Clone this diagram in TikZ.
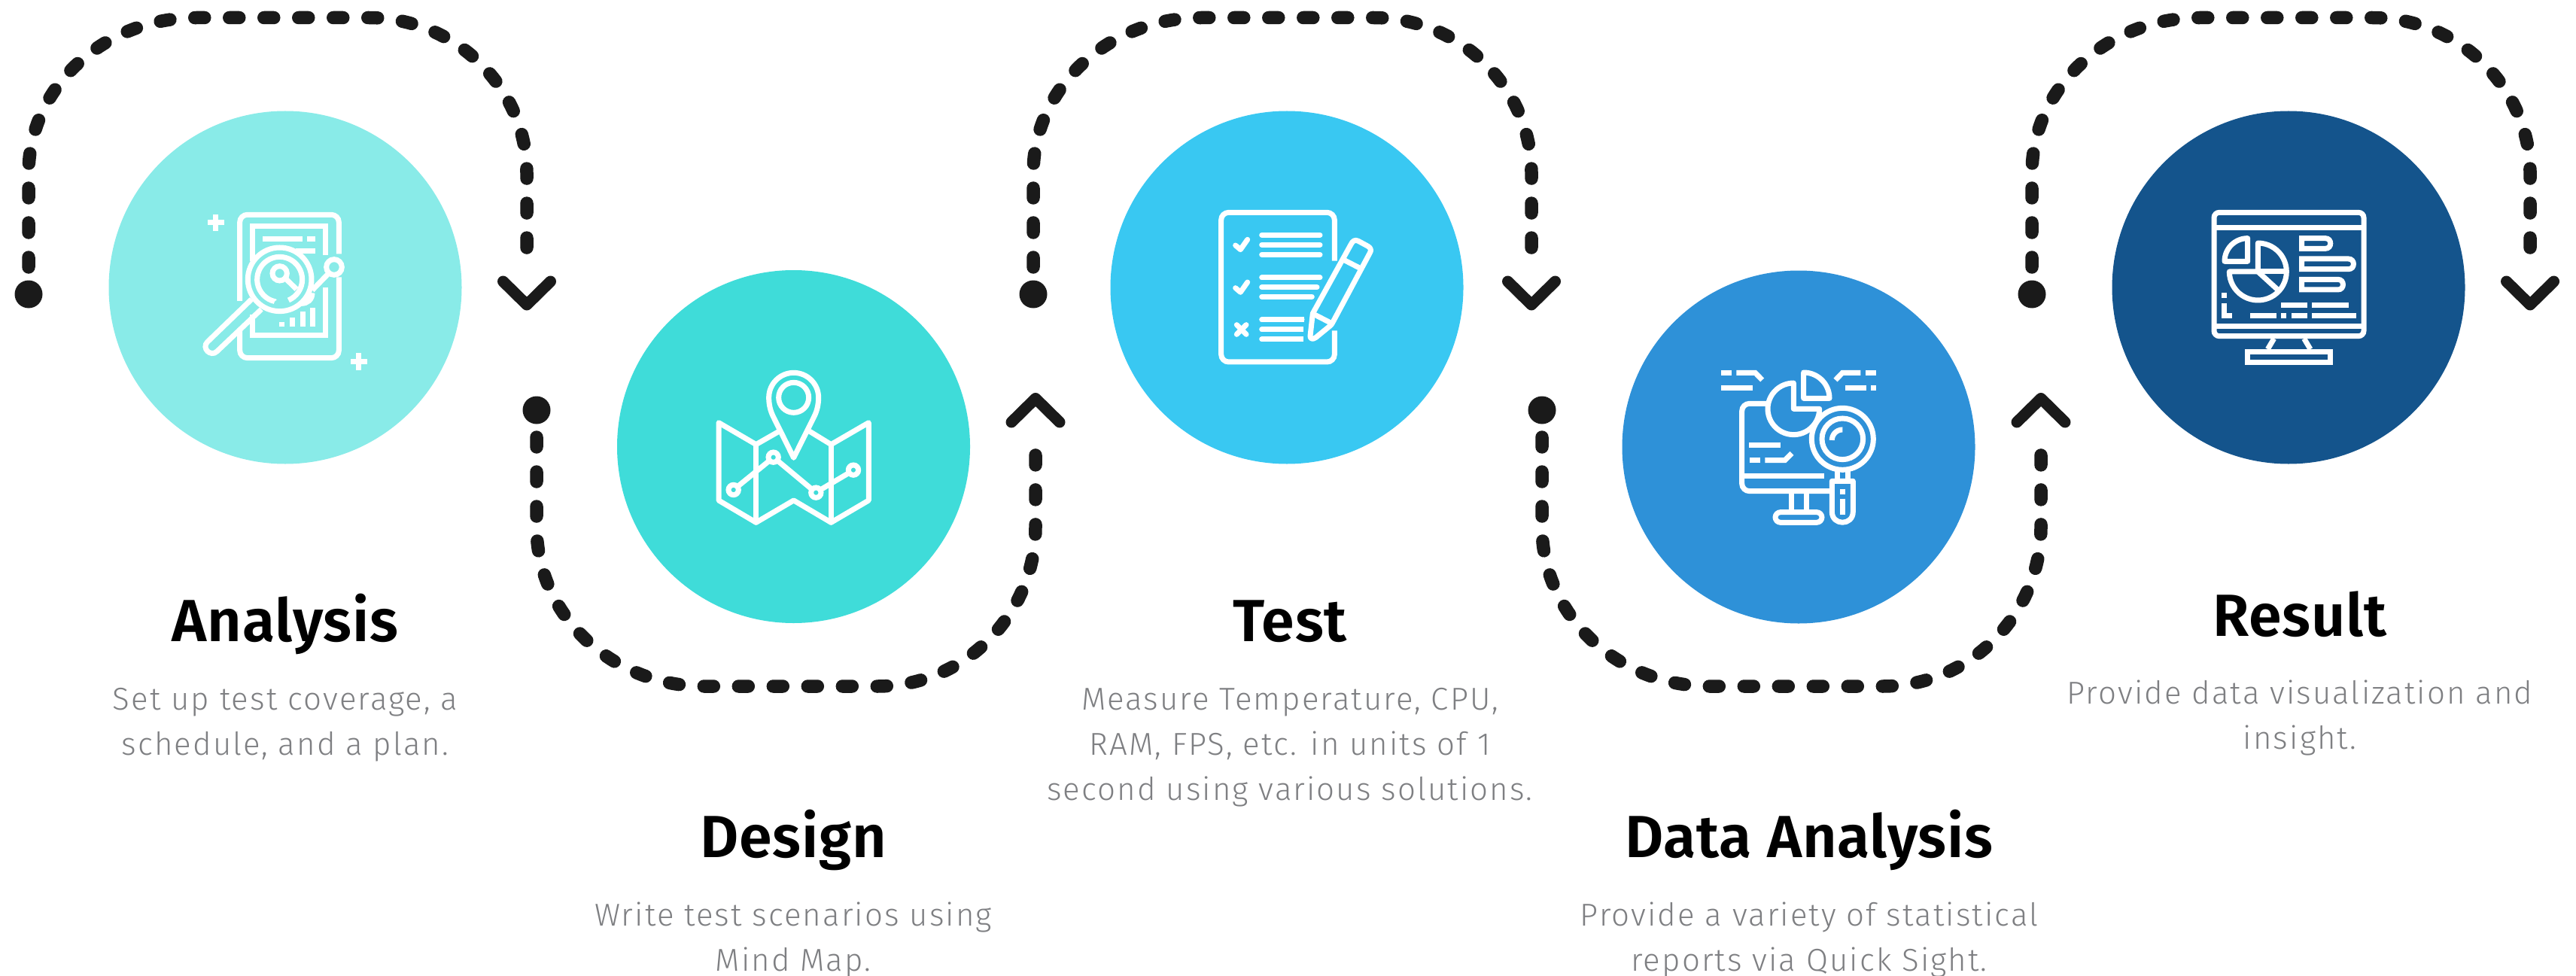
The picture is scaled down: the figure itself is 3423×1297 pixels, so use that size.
\documentclass[tikz,border=0pt]{standalone}
\usepackage{fontspec}
\setmainfont{Fira Sans}
\newfontfamily\titlefont{Fira Sans}[UprightFont=* SemiBold,LetterSpace=1]
\newfontfamily\bodyfont{Fira Sans Light}[LetterSpace=5]
\definecolor{inkdark}{HTML}{1A1A1A}
\definecolor{bodygrey}{HTML}{7E7F82}
\definecolor{stepa}{HTML}{89EBE8}
\definecolor{stepb}{HTML}{3FDCD9}
\definecolor{stepc}{HTML}{39C8F2}
\definecolor{stepd}{HTML}{2E91D8}
\definecolor{stepe}{HTML}{14548C}
\tikzset{
  stepcircle/.style={circle,minimum size=469pt,inner sep=0pt,fill=#1},
  steptitle/.style={anchor=base,inner sep=0pt,font=\titlefont\fontsize{79}{79}\selectfont},
  stepbody/.style={anchor=base,inner sep=0pt,align=center,text=bodygrey,font=\bodyfont\fontsize{42}{60}\selectfont},
  flowdot/.style={circle,minimum size=37pt,inner sep=0pt,fill=inkdark},
  flowline/.style={draw=inkdark,line width=17.5pt,line cap=round,dash pattern=on 13pt off 33pt},
  flowtip/.style={draw=inkdark,line width=15pt,line cap=round,line join=round},
  iconscope/.style={shift={#1},x=0.3333pt,y=-0.3333pt,white,line width=7pt},
  iconround/.style={line cap=round,line join=round}
}
\newcommand{\iconarc}[5]{-- plot[domain=#4:#5,samples=40] ({#1+#3*cos(\x)},{#2+#3*sin(\x)})}
\begin{document}
\begin{tikzpicture}[x=1pt,y=-1pt]
\useasboundingbox (0,0) rectangle (3423,1297);
\fill[white] (0,0) rectangle (3423,1297);
% Drawing circles
\node[stepcircle=stepa] (circleA) at (379,382) {};
\node[stepcircle=stepb] (circleB) at (1054.5,593.5) {};
\node[stepcircle=stepc] (circleC) at (1710,382) {};
\node[stepcircle=stepd] (circleD) at (2390,594) {};
\node[stepcircle=stepe] (circleE) at (3041,382) {};
% Drawing upper flows
\foreach \nm/\dx in {A/0,C/1335,E/2662}{
\begin{scope}[xshift=\dx pt]
\node[flowdot] (dot\nm) at (38,391) {};
\coordinate (from\nm) at ([yshift=36pt]dot\nm);
\coordinate (to\nm) at (700,362);
\coordinate (tip\nm) at (700,405);
\draw[flowline] (from\nm) -- (38,230) .. controls (38,117) and (138,23.5) .. (261,23.5) -- (490,23.5) .. controls (605,23.5) and (700,117) .. (700,230) -- (to\nm);
\draw[flowtip] (668.5,374) -- (tip\nm) -- (731.5,374);
\end{scope}
}
% Drawing lower flows
\foreach \nm/\dx in {B/0,D/1336}{
\begin{scope}[xshift=\dx pt]
\node[flowdot] (dot\nm) at (713,545) {};
\coordinate (from\nm) at ([yshift=-36pt]dot\nm);
\coordinate (to\nm) at (1376,574);
\coordinate (tip\nm) at (1376,529.5);
\draw[flowline] (from\nm) -- (713,700) .. controls (713,817) and (813,912) .. (936,912) -- (1166,912) .. controls (1281,912) and (1376,817) .. (1376,700) -- (to\nm);
\draw[flowtip] (1344,561) -- (tip\nm) -- (1408,561);
\end{scope}
}
% Done with flows; drawing icons
% Icon 1: tablet and lens
\begin{scope}[iconscope={(230,240)}]
\draw[rounded corners=10pt] (266,480) -- (266,136) -- (661,136) -- (661,292);
\draw[rounded corners=10pt] (661,385) -- (661,707) -- (266,707) -- (266,590);
\draw (318,320) -- (318,181) -- (609,181) -- (609,297);
\draw (609,425) -- (609,618) -- (318,618) -- (318,535);
\draw (357,233) -- (516,233);
\draw (533,233) -- (567,233);
\draw (490,280) -- (567,280);
\draw (425,394) circle[radius=127];
\draw (405,482) \iconarc{425}{394}{90}{103}{427};
\draw (425,370) circle[radius=29];
\draw (450,392) -- (492,433);
\draw (313,473) -- (137,643) .. controls (112,668) and (150,705) .. (175,681) -- (352,513);
\foreach \bx/\by in {433/563,475/545,517/523,558/507}{
\draw (\bx,\by) -- (\bx,582);
}
\draw (642,345) circle[radius=31];
\draw (620,370) -- (555,437);
\draw (555,448) .. controls (555,475) and (535,490) .. (512,490);
\draw (138,168) -- (204,168);
\draw (171,135) -- (171,202);
\draw (708,721) -- (774,721);
\draw (741,688) -- (741,755);
\end{scope}
% Icon 2: map and pin
\begin{scope}[iconscope={(920,460)}]
\draw[iconround] (404,445) -- (322,280) .. controls (312,260) and (305,235) .. (305,205) .. controls (305,150) and (350,106) .. (404,106) .. controls (458,106) and (503,150) .. (503,205) .. controls (503,235) and (496,260) .. (486,280) -- cycle;
\draw (404,205) circle[radius=60];
\draw[iconround] (345,340) -- (254,392) -- (105,305) -- (105,615) -- (254,703) -- (404,615) -- (553,703) -- (703,615) -- (703,305) -- (553,392) -- (468,340);
\draw[iconround] (254,392) -- (254,703);
\draw[iconround] (553,392) -- (553,703);
\draw (180,560) -- (308,456);
\draw (339,456) -- (477,571);
\draw (510,573) -- (625,505);
\foreach \px/\py in {164/573,323/443,493/584,642/494}{
\draw (\px,\py) circle[radius=20];
}
\end{scope}
% Icon 3: checklist and pencil
\begin{scope}[iconscope={(1590,250)}]
\draw[rounded corners=10pt] (550,290) -- (550,97) -- (98,97) -- (98,693) -- (550,693) -- (550,568);
\foreach \ly/\lx in {187/492,226/492,265/492,357/492,395/480,433/460}{
\draw[iconround] (260,\ly) -- (\lx,\ly);
}
\foreach \ly/\lx in {525/430,564/425,603/425}{
\draw[iconround] (260,\ly) -- (\lx-10,\ly);
\draw (300,\ly) -- (\lx,\ly);
}
\draw[iconround] (155,228) -- (175,245) -- (203,205);
\draw[iconround] (155,398) -- (175,415) -- (203,375);
\draw[iconround] (160,545) -- (198,583);
\draw[iconround] (198,545) -- (160,583);
\draw[iconround] (463,500) -- (615,225) .. controls (622,210) and (632,204) .. (645,211) -- (682,231) .. controls (695,238) and (698,248) .. (690,260) -- (543,535) .. controls (540,541) and (538,544) .. (530,551) -- (475,596) .. controls (463,605) and (452,600) .. (453,590) -- cycle;
\draw (585,285) -- (653,320);
\draw (468,503) -- (540,540);
\end{scope}
% Icon 4: monitor and pie under lens
\begin{scope}[iconscope={(2270,470)}]
\draw (51,76) -- (93,76);
\draw (112,76) -- (187,76) -- (215,105);
\draw (51,136) -- (177,136);
\draw (607,76) -- (535,76) -- (507,105);
\draw (627,76) -- (669,76);
\draw (546,136) -- (630,136);
\draw (648,136) -- (669,136);
\draw[iconround] (380,76) -- (380,178) -- (483,178) \iconarc{380}{178}{103}{0}{-90} -- cycle;
\draw[iconround] (340,117) -- (340,220) -- (443,220) \iconarc{340}{220}{103}{0}{270} -- cycle;
\draw[rounded corners=10pt] (232,199) -- (134,199) -- (134,548) -- (490,548);
\draw (134,487) -- (463,487);
\draw (330,548) -- (330,630);
\draw (390,548) -- (390,630);
\draw[iconround,rounded corners=7pt] (267,673) -- (267,632) -- (453,632) -- (453,673) -- cycle;
\draw (162,364) -- (288,364);
\draw (165,425) -- (207,425);
\draw (226,425) -- (305,425) -- (333,397);
\draw (535,340) circle[radius=123];
\draw (535,340) circle[radius=82];
\draw (493,345) \iconarc{535}{345}{42}{180}{270};
\draw (513,465) -- (513,510);
\draw (555,465) -- (555,510);
\draw[iconround] (493,508) -- (493,630) .. controls (493,687) and (577,687) .. (577,630) -- (577,508) -- cycle;
\draw (535,540) -- (535,560);
\draw (535,578) -- (535,642);
\end{scope}
% Icon 5: monitor with charts
\begin{scope}[iconscope={(2920,260)}]
\draw[rounded corners=7pt] (66,67) rectangle (663,560);
\draw (66,129) -- (663,129);
\draw (66,520) -- (663,520);
\draw (200,622) rectangle (530,664);
\draw (305,570) -- (280,612);
\draw (425,570) -- (450,612);
\draw[iconround] (200,170) -- (200,262) -- (108,262) \iconarc{200}{262}{92}{180}{270} -- cycle;
\draw[iconround] (241,303) -- (241,190) \iconarc{241}{303}{114}{-90}{180} -- cycle;
\draw[iconround] (241,303) -- (355,303);
\draw (241,303) -- (322,377);
\draw (510,170) -- (416,170) -- (416,211) -- (510,211) .. controls (537,211) and (537,170) .. (510,170) -- cycle;
\draw (602,252) -- (416,252) -- (416,293) -- (602,293) .. controls (629,293) and (629,252) .. (602,252) -- cycle;
\draw (560,334) -- (416,334) -- (416,375) -- (560,375) .. controls (587,375) and (587,334) .. (560,334) -- cycle;
\draw (96,398) -- (117,398);
\draw (107,428) -- (107,479) -- (138,479);
\foreach \ra/\rb/\ry in {333/437/436,456/603/436,210/315/478,333/354/478,375/437/478,456/633/478}{
\draw (\ra,\ry) -- (\rb,\ry);
}
\end{scope}
% Done with icons; drawing labels
\node[steptitle] (titleA) at (379,852) {Analysis};
\node[stepbody] (bodyA) at (379,1003) {Set up test coverage, a\\schedule, and a plan.};
\node[steptitle] (titleB) at (1054,1139) {Design};
\node[stepbody] (bodyB) at (1054,1290) {Write test scenarios using\\Mind Map.};
\node[steptitle] (titleC) at (1714,852) {Test};
\node[stepbody] (bodyC) at (1714,1063) {Measure Temperature, CPU,\\RAM, FPS, etc. in units of 1\\second using various solutions.};
\node[steptitle] (titleD) at (2404,1139) {Data Analysis};
\node[stepbody] (bodyD) at (2404,1290) {Provide a variety of statistical\\reports via Quick Sight.};
\node[steptitle] (titleE) at (3056,845) {Result};
\node[stepbody] (bodyE) at (3056,995) {Provide data visualization and\\insight.};
% Done with labels
\end{tikzpicture}
\end{document}
